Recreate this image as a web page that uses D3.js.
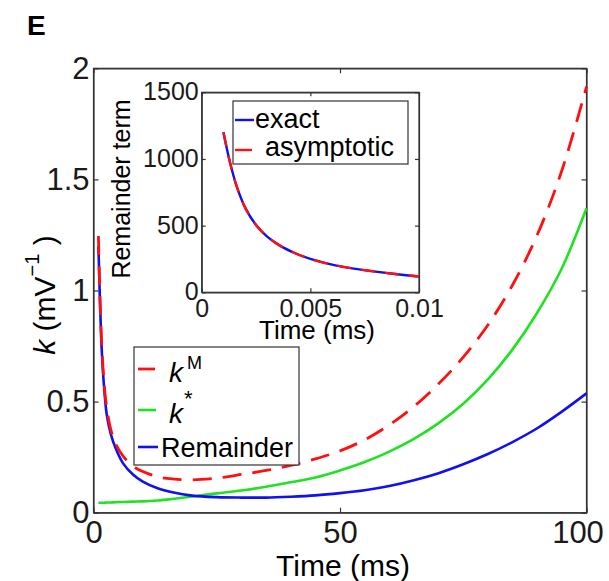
<!DOCTYPE html>
<html>
<head>
<meta charset="utf-8">
<script src="https://cdn.jsdelivr.net/npm/d3@7"></script>
<style>
  body { margin: 0; background: #fff; }
  svg { font-family: "Liberation Sans", Arial, sans-serif; }
  .axis path, .axis line { stroke: #333; stroke-width: 1.2; }
  .axis text { fill: #1a1a1a; }
</style>
</head>
<body>
<div id="chart"></div>
<script>
// main panel: time (ms) and the three k curves
var tMain = [1, 1.3, 1.7, 2.2, 2.7, 3.5, 4.5, 6, 8, 10, 13, 16, 20, 25, 30, 35, 40, 45, 50, 55, 60, 65, 70, 75, 80, 85, 90, 95, 100];
var kM = [1.245, 0.98, 0.74, 0.57, 0.47, 0.375, 0.31, 0.255, 0.21, 0.185, 0.162, 0.152, 0.148, 0.156, 0.172, 0.19, 0.213, 0.242, 0.278, 0.328, 0.395, 0.478, 0.58, 0.7, 0.845, 1.025, 1.25, 1.54, 1.917];
var kStar = [0.045, 0.045, 0.045, 0.045, 0.046, 0.046, 0.047, 0.048, 0.05, 0.051, 0.055, 0.062, 0.073, 0.087, 0.1, 0.117, 0.137, 0.158, 0.19, 0.228, 0.275, 0.332, 0.403, 0.49, 0.6, 0.735, 0.9, 1.1, 1.37];
var remainder = [1.2, 0.96, 0.72, 0.55, 0.44, 0.355, 0.29, 0.222, 0.172, 0.14, 0.11, 0.092, 0.077, 0.07, 0.068, 0.068, 0.072, 0.078, 0.088, 0.101, 0.12, 0.146, 0.178, 0.218, 0.264, 0.318, 0.38, 0.455, 0.537];
var xTicks = [0, 50, 100];
var yTicks = [0, 0.5, 1, 1.5, 2];

// inset: remainder term, exact vs asymptotic
var tInset = [0.001, 0.0013, 0.0016, 0.002, 0.0025, 0.003, 0.0036, 0.0043, 0.005, 0.006, 0.007, 0.008, 0.009, 0.01];
var exact = [1200, 975, 800, 635, 505, 420, 350, 293, 250, 208, 178, 155, 135, 118];
var asymptotic = [1200, 975, 800, 635, 505, 420, 350, 293, 250, 208, 178, 155, 135, 118];
var insetXTicks = [0, 0.005, 0.01];
var insetYTicks = [0, 500, 1000, 1500];

var red = "#ff1010", green = "#22e022", blue = "#1010f0";

var svg = d3.select("#chart").append("svg")
    .attr("width", 609)
    .attr("height", 581);

// panel letter
svg.append("text")
    .attr("x", 27).attr("y", 35)
    .attr("font-size", 28).attr("font-weight", "bold")
    .text("E");

// ---- main axes
var x = d3.scaleLinear().domain([0, 100]).range([93.5, 586.5]);
var y = d3.scaleLinear().domain([0, 2]).range([512.7, 68.3]);

svg.append("rect")
    .attr("x", x(0)).attr("y", y(2))
    .attr("width", x(100) - x(0)).attr("height", y(0) - y(2))
    .attr("fill", "#fff").attr("stroke", "#333").attr("stroke-width", 1.2);

var gx = svg.append("g").attr("class", "axis")
    .attr("transform", "translate(0," + y(0) + ")")
    .call(d3.axisBottom(x).tickValues(xTicks).tickSize(-5).tickPadding(9).tickSizeOuter(0));
gx.selectAll("text").attr("font-size", 31).attr("dy", "0.7em")
    .attr("x", function(d) { return d === 100 ? -9 : 0; });

svg.append("g").attr("class", "axis")
    .attr("transform", "translate(0," + y(2) + ")")
    .call(d3.axisTop(x).tickValues(xTicks).tickSize(-5).tickSizeOuter(0).tickFormat(""));

var gy = svg.append("g").attr("class", "axis")
    .attr("transform", "translate(" + x(0) + ",0)")
    .call(d3.axisLeft(y).tickValues(yTicks).tickSize(-5).tickPadding(4).tickSizeOuter(0).tickFormat(d3.format("")));
gy.selectAll("text").attr("font-size", 31).attr("dy", "0.32em");

svg.append("g").attr("class", "axis")
    .attr("transform", "translate(" + x(100) + ",0)")
    .call(d3.axisRight(y).tickValues(yTicks).tickSize(-5).tickSizeOuter(0).tickFormat(""));

// axis labels
svg.append("text")
    .attr("x", 343).attr("y", 576)
    .attr("text-anchor", "middle").attr("font-size", 30)
    .text("Time (ms)");

var ylab = svg.append("text")
    .attr("transform", "translate(55,295) rotate(-90)")
    .attr("text-anchor", "middle").attr("font-size", 30);
ylab.append("tspan").attr("font-style", "italic").text("k");
ylab.append("tspan").text(" (mV");
ylab.append("tspan").attr("font-size", 20).attr("dy", -16).text("\u22121");
ylab.append("tspan").attr("dy", 16).text(" )");

// curves
var line = d3.line()
    .x(function(d) { return x(d[0]); })
    .y(function(d) { return y(d[1]); })
    .curve(d3.curveCatmullRom.alpha(0.5));

function pairs(xs, ys) { return xs.map(function(v, i) { return [v, ys[i]]; }); }

svg.append("path").datum(pairs(tMain, kStar))
    .attr("d", line).attr("fill", "none").attr("stroke", green).attr("stroke-width", 2.6);
svg.append("path").datum(pairs(tMain, remainder))
    .attr("d", line).attr("fill", "none").attr("stroke", blue).attr("stroke-width", 2.6);
svg.append("path").datum(pairs(tMain, kM))
    .attr("d", line).attr("fill", "none").attr("stroke", red).attr("stroke-width", 2.8)
    .attr("stroke-dasharray", "19,11");

// main legend
var leg = svg.append("g");
leg.append("rect")
    .attr("x", 134).attr("y", 347).attr("width", 165).attr("height", 118)
    .attr("fill", "#fff").attr("stroke", "#333").attr("stroke-width", 1.2);
leg.append("line").attr("x1", 138).attr("x2", 155).attr("y1", 369).attr("y2", 369)
    .attr("stroke", red).attr("stroke-width", 2.8);
leg.append("line").attr("x1", 138).attr("x2", 156).attr("y1", 410).attr("y2", 410)
    .attr("stroke", green).attr("stroke-width", 2.6);
leg.append("line").attr("x1", 138).attr("x2", 158).attr("y1", 447).attr("y2", 447)
    .attr("stroke", blue).attr("stroke-width", 2.6);

var t1 = leg.append("text").attr("x", 169).attr("y", 382).attr("font-size", 28);
t1.append("tspan").attr("font-style", "italic").text("k");
t1.append("tspan").attr("font-size", 18).attr("dx", 4).attr("dy", -13).text("M");
var t2 = leg.append("text").attr("x", 169).attr("y", 423).attr("font-size", 28);
t2.append("tspan").attr("font-style", "italic").text("k");
t2.append("tspan").attr("font-size", 22).attr("dx", 1).attr("dy", -17).text("*");
leg.append("text").attr("x", 161).attr("y", 457).attr("font-size", 27).text("Remainder");

// ---- inset
var xi = d3.scaleLinear().domain([0, 0.01]).range([201.7, 419]);
var yi = d3.scaleLinear().domain([0, 1500]).range([292.3, 92.3]);

svg.append("rect")
    .attr("x", xi(0)).attr("y", yi(1500))
    .attr("width", xi(0.01) - xi(0)).attr("height", yi(0) - yi(1500))
    .attr("fill", "#fff").attr("stroke", "#333").attr("stroke-width", 1.2);

var gxi = svg.append("g").attr("class", "axis")
    .attr("transform", "translate(0," + yi(0) + ")")
    .call(d3.axisBottom(xi).tickValues(insetXTicks).tickSize(-4).tickPadding(7).tickSizeOuter(0).tickFormat(d3.format("")));
gxi.selectAll("text").attr("font-size", 25).attr("dy", "0.7em");

svg.append("g").attr("class", "axis")
    .attr("transform", "translate(0," + yi(1500) + ")")
    .call(d3.axisTop(xi).tickValues(insetXTicks).tickSize(-4).tickSizeOuter(0).tickFormat(""));

var gyi = svg.append("g").attr("class", "axis")
    .attr("transform", "translate(" + xi(0) + ",0)")
    .call(d3.axisLeft(yi).tickValues(insetYTicks).tickSize(-4).tickPadding(3).tickSizeOuter(0).tickFormat(d3.format("d")));
gyi.selectAll("text").attr("font-size", 25).attr("dy", "0.3em");

svg.append("g").attr("class", "axis")
    .attr("transform", "translate(" + xi(0.01) + ",0)")
    .call(d3.axisRight(yi).tickValues(insetYTicks).tickSize(-4).tickSizeOuter(0).tickFormat(""));

svg.append("text")
    .attr("x", 317).attr("y", 339)
    .attr("text-anchor", "middle").attr("font-size", 26)
    .text("Time (ms)");
svg.append("text")
    .attr("transform", "translate(130,189) rotate(-90)")
    .attr("text-anchor", "middle").attr("font-size", 25)
    .text("Remainder term");

var linei = d3.line()
    .x(function(d) { return xi(d[0]); })
    .y(function(d) { return yi(d[1]); })
    .curve(d3.curveCatmullRom.alpha(0.5));

svg.append("path").datum(pairs(tInset, exact))
    .attr("d", linei).attr("fill", "none").attr("stroke", blue).attr("stroke-width", 2.4);
svg.append("path").datum(pairs(tInset, asymptotic))
    .attr("d", linei).attr("fill", "none").attr("stroke", red).attr("stroke-width", 2.4)
    .attr("stroke-dasharray", "14,10");

// inset legend
var legi = svg.append("g");
legi.append("rect")
    .attr("x", 233).attr("y", 101).attr("width", 175).attr("height", 63)
    .attr("fill", "#fff").attr("stroke", "#333").attr("stroke-width", 1.2);
legi.append("line").attr("x1", 235).attr("x2", 254).attr("y1", 120).attr("y2", 120)
    .attr("stroke", blue).attr("stroke-width", 2.4);
legi.append("line").attr("x1", 235).attr("x2", 252).attr("y1", 150).attr("y2", 150)
    .attr("stroke", red).attr("stroke-width", 2.4);
legi.append("text").attr("x", 255).attr("y", 128).attr("font-size", 27).text("exact");
legi.append("text").attr("x", 265).attr("y", 156).attr("font-size", 27).text("asymptotic");
</script>
</body>
</html>
